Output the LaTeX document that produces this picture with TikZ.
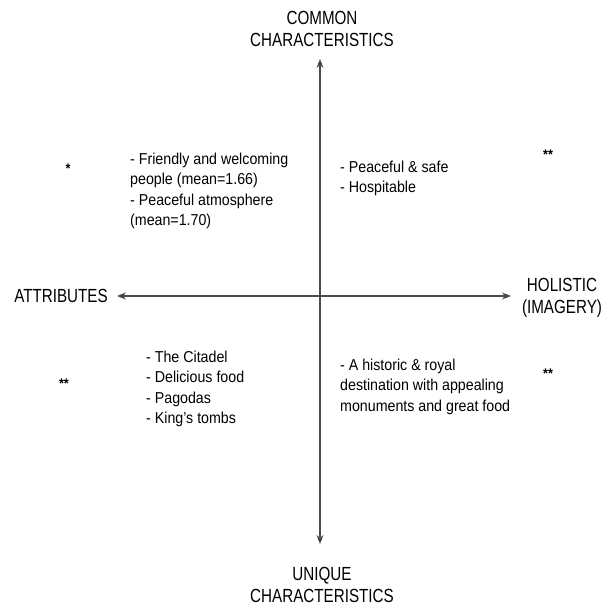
\documentclass[tikz,border=0pt]{standalone}
\usepackage{fontspec}
\setmainfont[FakeStretch=0.9]{Liberation Sans}
\newfontfamily\capsfont[FakeStretch=0.8]{Liberation Sans}
\usetikzlibrary{arrows.meta}
\begin{document}
\begin{tikzpicture}[x=1pt,y=-1pt,
  lbl/.style={inner sep=0pt,font=\capsfont\fontsize{19}{22}\selectfont,align=center,text=black},
  txt/.style={inner sep=0pt,font=\fontsize{15.8}{20.3}\selectfont,align=left,anchor=north west,text=black},
  star/.style={inner sep=0pt,font=\fontsize{14}{16}\selectfont\bfseries},
  axis/.style={line width=1.1pt,draw=black!70,{Stealth[length=9pt,width=7pt,fill=black]}-{Stealth[length=9pt,width=7pt,fill=black]}}]
\useasboundingbox (0,0) rectangle (602,606);
\node[lbl] (top) at (322,29) {COMMON\\CHARACTERISTICS};
\node[lbl] (bot) at (322,585) {UNIQUE\\CHARACTERISTICS};
\node[lbl] (left) at (61,296) {ATTRIBUTES};
\node[lbl] (right) at (562,298) {HOLISTIC\\(IMAGERY)};
\coordinate (tt) at (320,59);
\coordinate (bb) at (320,544);
\coordinate (ll) at (117,296);
\coordinate (rr) at (511,296);
\draw[axis] (tt) -- (bb);
\draw[axis] (ll) -- (rr);
\node[txt] (ul) at (130,153) {- Friendly and welcoming\\people (mean=1.66)\\- Peaceful atmosphere\\(mean=1.70)};
\node[txt] (ur) at (340,161) {- Peaceful \& safe\\- Hospitable};
\node[txt] (lll) at (146,351) {- The Citadel\\- Delicious food\\- Pagodas\\- King's tombs};
\node[txt] (lr) at (340,359) {- A historic \& royal\\destination with appealing\\monuments and great food};
\node[star] (s1) at (68,169) {*};
\node[star] (s2) at (548,155) {**};
\node[star] (s3) at (64,384) {**};
\node[star] (s4) at (548,374) {**};
\end{tikzpicture}
\end{document}
